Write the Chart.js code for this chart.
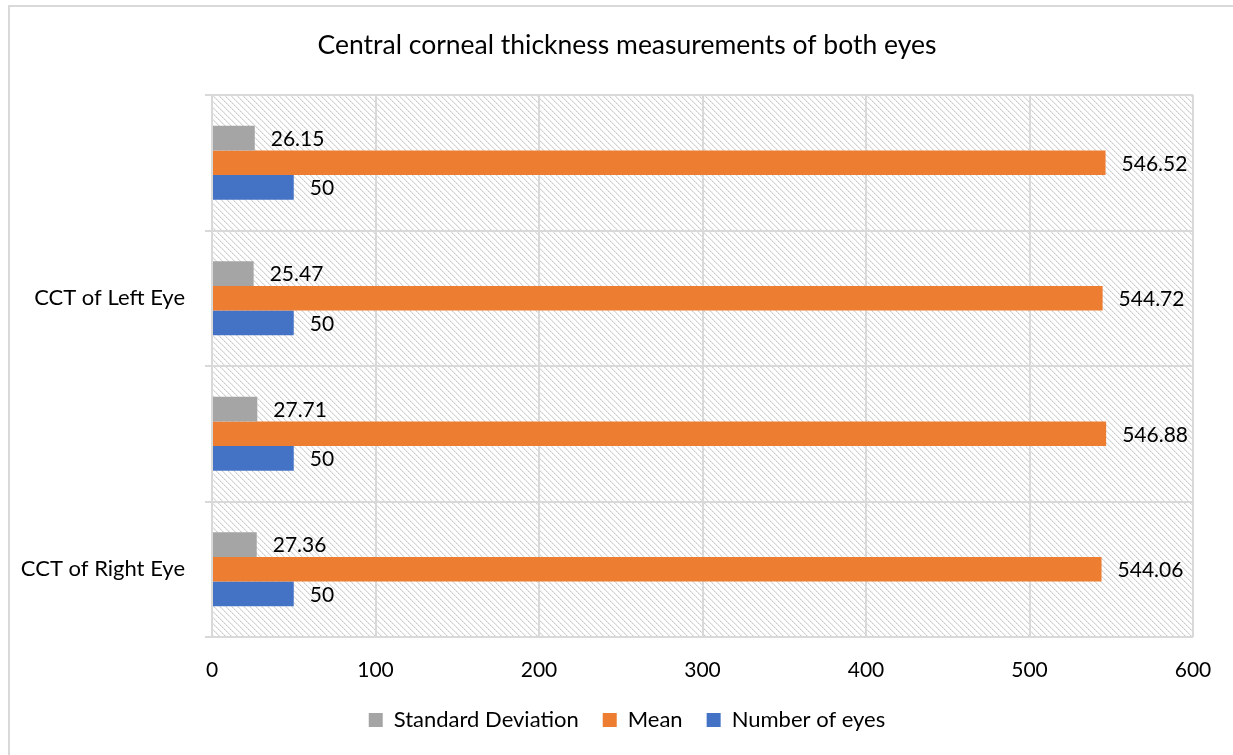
<!DOCTYPE html>
<html><head><meta charset="utf-8">
<script src="https://cdn.jsdelivr.net/npm/chart.js@4"></script>
<style>
html,body{margin:0;padding:0;background:#fff;overflow:hidden;width:1233px;height:755px;}
#frame{position:absolute;left:8px;top:5px;width:1300px;height:800px;border-left:2px solid #d9d9d9;border-top:2px solid #d9d9d9;}
#wrap{position:absolute;left:8px;top:5px;width:1238px;height:750px;}
</style></head><body>
<div id="frame"></div>
<div id="wrap"><canvas id="c" width="1238" height="750" style="width:1238px;height:750px"></canvas></div>
<script>
const categories = ["", "CCT of Left Eye", "", "CCT of Right Eye"];
const sdValues = [26.15, 25.47, 27.71, 27.36];
const meanValues = [546.52, 544.72, 546.88, 544.06];
const eyesValues = [50, 50, 50, 50];
const seriesNames = ["Standard Deviation", "Mean", "Number of eyes"];
const xMin = 0, xMax = 600, xStep = 100;
const titleText = "Central corneal thickness measurements of both eyes";

const FONT = "Lato, 'Open Sans', sans-serif";

function makeHatch(){
  const p = document.createElement('canvas');
  p.width = 6; p.height = 6;
  const c = p.getContext('2d');
  c.fillStyle = '#fff'; c.fillRect(0,0,6,6);
  for (let i=0;i<6;i++){
    c.fillStyle = (i%2===0) ? '#cfcfcf' : '#dedede';
    c.fillRect(i, i, 1, 1);
    c.fillStyle = '#ececec';
    c.fillRect((i+1)%6, i, 1, 1);
  }
  return p;
}

const hatchBg = {
  id: 'hatchBg',
  beforeDraw(chart){
    const a = chart.chartArea, ctx = chart.ctx;
    ctx.save();
    ctx.fillStyle = ctx.createPattern(makeHatch(), 'repeat');
    ctx.fillRect(a.left, a.top, a.right - a.left, a.bottom - a.top);
    ctx.restore();
  }
};

// center title and legend on the whole chart frame rather than the padded box
const recenter = {
  id: 'recenter',
  afterLayout(chart){
    const shift = 26.5;
    [chart.titleBlock, chart.legend].forEach(b => {
      if (b) { b.left += shift; b.right += shift; }
    });
  }
};

const valueLabels = {
  id: 'valueLabels',
  afterDatasetsDraw(chart){
    const ctx = chart.ctx, area = chart.chartArea;
    ctx.save();
    ctx.font = "21px " + FONT;
    ctx.fillStyle = '#000';
    ctx.textBaseline = 'middle';
    ctx.textAlign = 'left';
    chart.data.datasets.forEach((ds, i) => {
      const meta = chart.getDatasetMeta(i);
      meta.data.forEach((el, j) => {
        const txt = String(ds.data[j]);
        const w = ctx.measureText(txt).width;
        let x = el.x + 16;
        if (x + w > area.right - 5) x = area.right - 5 - w;
        ctx.fillText(txt, x, el.y + 1);
      });
    });
    ctx.restore();
  }
};

new Chart(document.getElementById('c'), {
  type: 'bar',
  data: {
    labels: categories,
    datasets: [
      { label: seriesNames[0], data: sdValues, backgroundColor: '#a5a5a5' },
      { label: seriesNames[1], data: meanValues, backgroundColor: '#ed7d31' },
      { label: seriesNames[2], data: eyesValues, backgroundColor: '#4472c4' }
    ]
  },
  options: {
    indexAxis: 'y',
    responsive: false,
    animation: false,
    datasets: { bar: { barPercentage: 1, categoryPercentage: 0.546, borderWidth: 0 } },
    layout: { padding: { left: 0, right: 53, top: 0, bottom: 14 } },
    plugins: {
      title: {
        display: true, text: titleText, color: '#000',
        font: { family: FONT, size: 26.5, weight: 'normal' },
        padding: { top: 24.1, bottom: 34.1 }
      },
      legend: {
        position: 'bottom',
        labels: {
          color: '#000', boxWidth: 14, boxHeight: 14, padding: 24,
          font: { family: FONT, size: 22 }
        }
      },
      tooltip: { enabled: false }
    },
    scales: {
      x: {
        min: xMin, max: xMax,
        ticks: { stepSize: xStep, color: '#000', padding: 20.4, font: { family: FONT, size: 21 } },
        grid: { color: '#d9d9d9', lineWidth: 2, drawTicks: false },
        border: { display: false },
        afterFit(s){ s.height = 48; }
      },
      y: {
        ticks: { color: '#000', padding: 20, font: { family: FONT, size: 22 } },
        grid: { color: '#d9d9d9', lineWidth: 2, tickLength: 7, offset: true },
        border: { color: '#d9d9d9', width: 2 },
        afterFit(s){ s.width = 204; }
      }
    }
  },
  plugins: [hatchBg, recenter, valueLabels]
});
</script>
</body></html>
